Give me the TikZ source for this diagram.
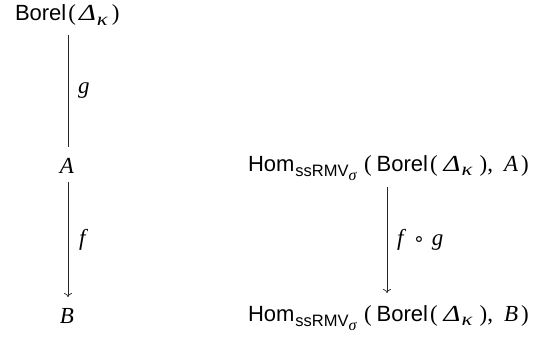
\documentclass[tikz,border=0pt]{standalone}
\usepackage{fontspec}
\usepackage{graphicx}
\setmainfont{Liberation Serif}
\setsansfont{Liberation Sans}
\newfontfamily\dvfont{DejaVu Sans}
\usetikzlibrary{arrows.meta,calc}
\newcommand\mi[1]{{\fontsize{23}{26}\selectfont\textit{#1}}}
\newcommand\mup[1]{{\fontsize{23}{26}\selectfont\textup{#1}}}
\newcommand\subsz[1]{\raisebox{-0.26em}{\fontsize{16.5}{16.5}\selectfont #1}}
\newcommand\subsubsz[1]{\raisebox{-0.2em}{\fontsize{16}{16}\selectfont #1}}
\newcommand\Dk{\scalebox{1.25}[1]{\mi{Δ}}\kern1pt\raisebox{-0.22em}{\fontsize{18}{18}\selectfont\scalebox{1.25}[1]{\textit{κ}}}}
% #1: extra space inside the parentheses
\newcommand\BorK[1]{\textsf{Borel}\kern2pt\mup{(}\kern\dimexpr3pt+#1\relax\Dk\kern\dimexpr4pt+#1\relax\mup{)}}
\newcommand\Bor{\BorK{0pt}}
\newcommand\HomOf[1]{\textsf{Hom}\kern1pt\subsz{\textsf{ssRMV}\subsubsz{\textit{σ}}}\kern7pt\mup{(}\kern5pt\BorK{3pt}\mup{,}\kern11pt\mi{#1}\kern3pt\mup{)}}
\tikzset{
  lbl/.style={font=\fontsize{22}{26}\selectfont, inner sep=0pt, outer sep=0pt},
  mor/.style={line width=0.7pt, draw=black!85},
  tip/.style={-{To[length=4pt,width=8pt]}}
}
\begin{document}
\begin{tikzpicture}[x=1pt,y=-1pt]
\useasboundingbox (0,0) rectangle (534,337);
\node[lbl, anchor=base west] (top) at (15,21) {\Bor};
\node[lbl, anchor=base] (a) at (67,173) {\mi{A}};
\node[lbl, anchor=base] (b) at (67,323) {\mi{B}};
\node[lbl, anchor=base west] (ha) at (248,171) {\HomOf{A}};
\node[lbl, anchor=base west] (hb) at (248,321) {\HomOf{B}};
\draw[mor] ($(a.base |- top.base)+(1,14)$) -- ($(a.base)+(1,-26)$)
  node[midway, right=10pt, lbl] {\mi{g}};
\draw[mor, tip] ($(a.base)+(1,9)$) -- ($(b.base)+(1,-26)$)
  node[midway, right=11pt, lbl] {\mi{f}};
\draw[mor, tip] ($(ha.base west)+(139,16)$) -- ($(hb.base west)+(139,-28)$)
  node[midway, right=10pt, lbl] {\mi{f}\kern7pt{\dvfont\fontsize{19}{19}\selectfont ∘}\kern7pt\mi{g}};
\end{tikzpicture}
\end{document}
